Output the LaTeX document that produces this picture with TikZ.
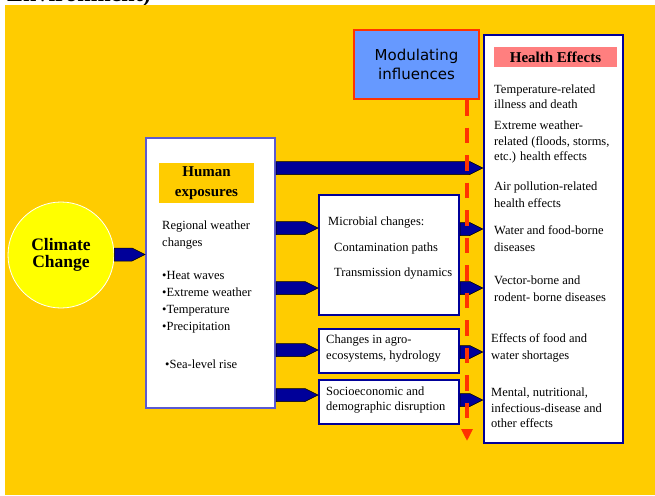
\documentclass[tikz,border=0pt]{standalone}
\usepackage{fontspec}
\setmainfont{Liberation Serif}
\newfontfamily\modfont{DejaVu Sans}
\usetikzlibrary{calc,positioning,arrows.meta}

\definecolor{bgyellow}{HTML}{FFCC00}
\definecolor{ccyellow}{HTML}{FFFF00}
\definecolor{arrowblue}{HTML}{000099}
\definecolor{boxblue}{HTML}{5A5AD2}
\definecolor{modblue}{HTML}{6699FF}
\definecolor{modred}{HTML}{FF3300}
\definecolor{hpink}{HTML}{FF7F7F}

\begin{document}
\begin{tikzpicture}[x=1pt,y=-1pt,
  box/.style={draw=arrowblue,line width=2pt,fill=white,inner sep=0pt},
  lab/.style={inner sep=0pt,align=center,font=\fontsize{15}{20}\selectfont\bfseries},
  txt/.style={anchor=west,inner sep=0pt,align=left,font=\fontsize{12.5}{15.5}\selectfont},
  wide/.style={font=\fontsize{12.5}{17}\selectfont},
  fat/.style={draw=black,line width=0.5pt,fill=arrowblue,
    to path={let \p1=(\tikztostart),\p2=(\tikztotarget) in
      (\x1,\y1+6.5pt) -- (\x2-13pt,\y1+6.5pt) -- (\x2,\y1)
      -- (\x2-13pt,\y1-6.5pt) -- (\x1,\y1-6.5pt) -- cycle}}]
   \useasboundingbox (0,0) rectangle (655,495);
   \fill[white] (0,0) rectangle (655,495);
   \node[anchor=base west,inner sep=0pt,font=\fontsize{24}{24}\selectfont\bfseries] (envtxt) at (7,1.5) {Environment)};
   \fill[bgyellow] (5,5) rectangle (655,495);

   % climate change
   \node[circle,draw=white,line width=0.8pt,fill=ccyellow,minimum size=106,inner sep=0pt,
         align=center,font=\fontsize{17.5}{17}\selectfont\bfseries] (cc) at (61,255) {Climate\\Change};

   % human exposures
   \node[box,draw=boxblue,minimum width=129,minimum height=270] (hum) at (210.5,273) {};
   \node[lab,fill=bgyellow,minimum width=95,minimum height=40] (humlab) at (206.5,183) {Human\\exposures};
   \node[txt,wide] (regw) at (162,235) {Regional weather\\changes};
   \node[txt,wide] (bul) at (162,302.5) {•Heat waves\\•Extreme weather\\•Temperature\\•Precipitation};
   \node[txt] (slr) at (165,364) {•Sea-level rise};

   % middle boxes
   \node[box,minimum width=140,minimum height=120] (mic) at (389,255) {};
   \node[txt] (micA) at (328,223) {Microbial changes:};
   \node[txt] (micB) at (334,248) {Contamination paths};
   \node[txt] (micC) at (334,274) {Transmission dynamics};
   \node[box,minimum width=140,minimum height=44] (agr) at (389,351) {};
   \node[txt] (agrT) at (326,348.5) {Changes in agro-\\ecosystems, hydrology};
   \node[box,minimum width=140,minimum height=44] (soc) at (389,402) {};
   \node[txt] (socT) at (326,400) {Socioeconomic and\\demographic disruption};

   % health effects
   \node[box,line width=2.5pt,minimum width=139,minimum height=408] (hel) at (553.5,239) {};
   \node[lab,fill=hpink,minimum width=123,minimum height=20] (hellab) at (555.5,57) {Health Effects};
   \node[txt] (h1) at (494,96.5) {Temperature-related\\illness and death};
   \node[txt] (h2) at (494,142) {Extreme weather-\\related (floods, storms,\\etc.) health effects};
   \node[txt,wide] (h3) at (494,194.5) {Air pollution-related\\health effects};
   \node[txt,wide] (h4) at (494,238.5) {Water and food-borne\\diseases};
   \node[txt,wide] (h5) at (494,288.5) {Vector-borne and\\rodent- borne diseases};
   \node[txt,wide] (h6) at (491,347.5) {Effects of food and\\water shortages};
   \node[txt] (h7) at (491,408) {Mental, nutritional,\\infectious-disease and\\other effects};

   % modulating influences
   \node[draw=modred,line width=2pt,fill=modblue,minimum width=125,minimum height=69,inner sep=0pt,
         align=center,font=\modfont\fontsize{15}{19}\selectfont] (mod) at (416.5,64.5) {Modulating\\influences};

   % fat arrows
   \draw[fat] (cc.east |- 0,254.5) to (hum.west |- 0,254.5);
   \draw[fat] (hum.east |- 0,168) to (hel.west |- 0,168);
   \draw[fat] (hum.east |- 0,228) to (mic.west |- 0,228);
   \draw[fat] (hum.east |- 0,288) to (mic.west |- 0,288);
   \draw[fat] (hum.east |- 0,350) to (agr.west |- 0,350);
   \draw[fat] (hum.east |- 0,395) to (soc.west |- 0,395);
   \draw[fat] (mic.east |- 0,229) to (hel.west |- 0,229);
   \draw[fat] (mic.east |- 0,288) to (hel.west |- 0,288);
   \draw[fat] (agr.east |- 0,352) to (hel.west |- 0,352);
   \draw[fat] (soc.east |- 0,400) to (hel.west |- 0,400);

   % dashed influence line
   \coordinate (modend) at (467,441);
   \draw[modred,line width=4pt,dash pattern=on 15.5pt off 12pt,-{Triangle[length=12pt,width=11pt]}]
        (mod.south -| modend) -- (modend);
\end{tikzpicture}
\end{document}
